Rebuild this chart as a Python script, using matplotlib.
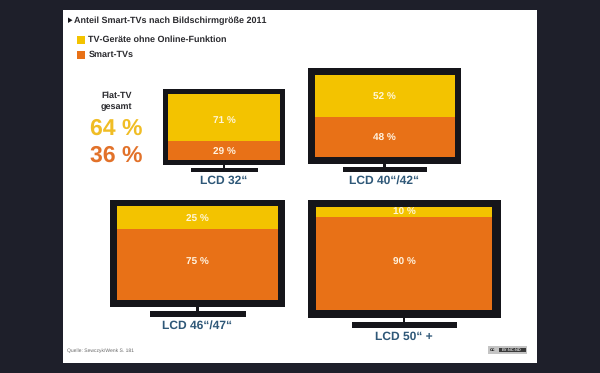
import matplotlib
matplotlib.use("Agg")
import matplotlib.pyplot as plt
from matplotlib.patches import Rectangle, Polygon

plt.rcParams['font.family'] = ['Liberation Sans', 'DejaVu Sans']
plt.rcParams['text.hinting'] = 'none'
plt.rcParams['text.hinting_factor'] = 1

title = "Anteil Smart-TVs nach Bildschirmgröße 2011"
legend_labels = ["TV-Geräte ohne Online-Funktion", "Smart-TVs"]
categories = ["LCD 32“", "LCD 40“/42“", "LCD 46“/47“", "LCD 50“ +"]
smart_tvs = [29, 48, 75, 90]
ohne_online = [71, 52, 25, 10]
gesamt_ohne = 64
gesamt_smart = 36
source = "Quelle: Sewczyk/Wenk S. 181"

YEL = "#f3c300"
ORG = "#e87117"
DARK = "#15151a"
BG = "#1e1f2a"
BLUE = "#2f5878"
TXT = "#2a2a2e"

W, H = 600, 373
fig = plt.figure(figsize=(6, 3.73), dpi=100, facecolor=BG)
ax = fig.add_axes([0, 0, 1, 1])
ax.set_xlim(0, W)
ax.set_ylim(H, 0)
ax.axis("off")

def box(x0, y0, x1, y1, c, z=1):
    ax.add_patch(Rectangle((x0, y0), x1 - x0, y1 - y0, fc=c, ec="none", zorder=z))

box(63, 10, 537, 363, "white", 0)

# title / legend
ax.add_patch(Polygon([(68, 17.5), (68, 23), (72.5, 20.2)], fc=DARK, ec="none"))
ax.text(73.5, 20.3, title, fontsize=6.75, fontweight="bold", color=TXT, va="center", ha="left")
box(76.5, 35.5, 84.5, 43.5, YEL)
box(76.5, 51, 84.5, 58.5, ORG)
ax.text(88.5, 39.7, legend_labels[0], fontsize=6.8, fontweight="bold", color=TXT, va="center")
ax.text(88.5, 55, legend_labels[1], fontsize=6.8, fontweight="bold", color=TXT, va="center")

# overall
ax.text(116.5, 95.8, "Flat-TV", fontsize=6.6, fontweight="bold", color=TXT, ha="center", va="center")
ax.text(116.5, 106.8, "gesamt", fontsize=6.6, fontweight="bold", color=TXT, ha="center", va="center")
ax.text(116, 129.3, f"{gesamt_ohne} %", fontsize=16.3, fontweight="bold", color="#f0bd25", ha="center", va="center")
ax.text(116, 156, f"{gesamt_smart} %", fontsize=16.3, fontweight="bold", color="#e2722a", ha="center", va="center")

# geometry: outer frame, screen, neck, base, label centre, label y-shift (px) smart / ohne
tvs = [
    dict(o=(163, 89, 285, 165), s=(168, 94, 280, 160), n=(223, 225), b=(191, 168, 257.5, 171.5), l=(224, 181), d=(2, 4)),
    dict(o=(308, 68, 461, 163.5), s=(314.5, 74.5, 455, 157), n=(383, 385.5), b=(342.5, 166.5, 426.5, 171.5), l=(384.5, 181), d=(1.5, 1)),
    dict(o=(110, 199.5, 285, 307), s=(117, 205.5, 278, 299.5), n=(196, 198.5), b=(149.5, 311, 245.5, 316.5), l=(197, 325.3), d=(-1.8, 2.5)),
    dict(o=(308, 199.5, 500.5, 317.5), s=(316, 206.5, 492, 310), n=(402.5, 405), b=(351.5, 322, 456.5, 328), l=(404, 337), d=(-1, 1)),
]
for i, tv in enumerate(tvs):
    x0, y0, x1, y1 = tv["o"]
    box(x0, y0, x1, y1, DARK, 1)
    bx0, by0, bx1, by1 = tv["b"]
    box(bx0, by0, bx1, by1, DARK, 1)
    box(tv["n"][0], y1, tv["n"][1], by0, DARK, 1)
    ax.text(tv["l"][0], tv["l"][1], categories[i], fontsize=8.6, fontweight="bold",
            color=BLUE, ha="center", va="center")

    sx0, sy0, sx1, sy1 = tv["s"]
    a = fig.add_axes([sx0 / W, 1 - sy1 / H, (sx1 - sx0) / W, (sy1 - sy0) / H])
    a.set_xlim(-0.5, 0.5)
    a.set_ylim(0, 100)
    a.axis("off")
    a.bar(0, smart_tvs[i], width=1, color=ORG)
    a.bar(0, ohne_online[i], width=1, bottom=smart_tvs[i], color=YEL)
    ds, dy = tv["d"]
    a.annotate(f"{smart_tvs[i]} %", (0, smart_tvs[i] / 2), xytext=(0, -ds * 0.72), textcoords="offset points",
               color="#fff3e0", fontsize=7, fontweight="bold", ha="center", va="center")
    a.annotate(f"{ohne_online[i]} %", (0, smart_tvs[i] + ohne_online[i] / 2), xytext=(0, -dy * 0.72),
               textcoords="offset points", color="#fff6d8", fontsize=7, fontweight="bold", ha="center", va="center")

# source and licence badge
ax.text(67, 350.3, source, fontsize=3.95, color="#666666", va="center")
box(487.5, 346, 526.5, 353.5, "#c4c4c4")
box(499, 347.5, 525.5, 352, "#3a3a3a")
ax.text(493, 349.8, "cc", fontsize=3.5, color="#222222", ha="center", va="center", fontweight="bold")
ax.text(512, 349.7, "BY-NC-ND", fontsize=2.6, color="#dddddd", ha="center", va="center", fontweight="bold")

fig.savefig("out.png", dpi=100, facecolor=BG)
